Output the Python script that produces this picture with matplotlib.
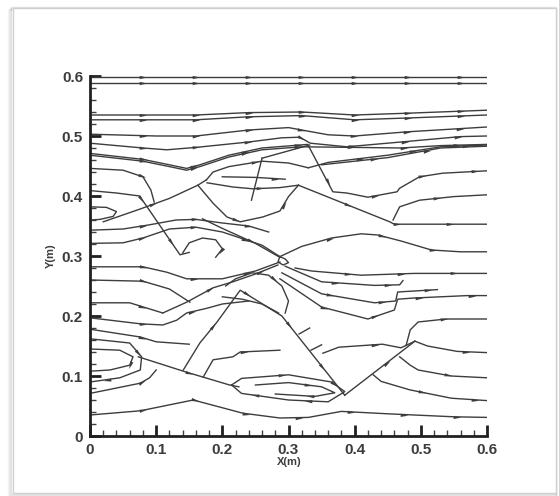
import numpy as np
import matplotlib
matplotlib.use("Agg")
import matplotlib.pyplot as plt
from matplotlib.path import Path
from matplotlib.markers import MarkerStyle
from matplotlib.transforms import Affine2D
from matplotlib.patches import Rectangle
from matplotlib.ticker import MultipleLocator

# ---- streamline traces, (x, y) in metres ----
top_1 = [(0.0, 0.598), (0.6, 0.598)]
top_2 = [(0.0, 0.588), (0.6, 0.588)]
top_3 = [(0.0, 0.535), (0.16, 0.535), (0.24, 0.539), (0.32, 0.540), (0.40, 0.535), (0.48, 0.538), (0.6, 0.543)]
top_4 = [(0.0, 0.527), (0.16, 0.527), (0.24, 0.532), (0.32, 0.534), (0.40, 0.527), (0.48, 0.530), (0.6, 0.535)]
top_5 = [(0.0, 0.503), (0.1, 0.500), (0.16, 0.500), (0.24, 0.510), (0.30, 0.514), (0.36, 0.502), (0.40, 0.500), (0.48, 0.507), (0.6, 0.515)]
top_6 = [(0.0, 0.488), (0.08, 0.480), (0.116, 0.477), (0.16, 0.481), (0.24, 0.490), (0.29, 0.497), (0.317, 0.498), (0.333, 0.488),
         (0.388, 0.482), (0.47, 0.490), (0.56, 0.499), (0.6, 0.500)]
top_7 = [(0.0, 0.471), (0.08, 0.461), (0.12, 0.452), (0.146, 0.446), (0.166, 0.452), (0.21, 0.468), (0.26, 0.480), (0.329, 0.486),
         (0.367, 0.407), (0.388, 0.405), (0.42, 0.398), (0.464, 0.407), (0.468, 0.413), (0.498, 0.432), (0.533, 0.438), (0.6, 0.442)]
top_8 = [(0.0, 0.468), (0.08, 0.458), (0.12, 0.449), (0.146, 0.443), (0.166, 0.449), (0.21, 0.465), (0.26, 0.477), (0.32, 0.482),
         (0.40, 0.481), (0.47, 0.480), (0.53, 0.484), (0.6, 0.486)]
conv_1 = [(0.33, 0.447), (0.36, 0.456), (0.45, 0.468), (0.53, 0.482), (0.6, 0.485)]
conv_2 = [(0.35, 0.452), (0.40, 0.458), (0.45, 0.464), (0.53, 0.480), (0.6, 0.483)]

# recirculation bubble below the upper shock
wall_left = [(0.244, 0.393), (0.26, 0.463)]
wall_roof = [(0.26, 0.463), (0.332, 0.485)]
bub_top = [(0.176, 0.427), (0.186, 0.440), (0.21, 0.449), (0.26, 0.458), (0.30, 0.455), (0.33, 0.447)]
bub_in1 = [(0.20, 0.432), (0.25, 0.431), (0.295, 0.428)]
bub_in2 = [(0.177, 0.422), (0.216, 0.415), (0.246, 0.412), (0.287, 0.414), (0.315, 0.418)]
bub_bot = [(0.163, 0.418), (0.186, 0.388), (0.207, 0.365), (0.227, 0.357), (0.261, 0.365), (0.287, 0.375), (0.30, 0.399), (0.315, 0.418)]
diag_1 = [(0.315, 0.418), (0.453, 0.357), (0.46, 0.353), (0.52, 0.353), (0.6, 0.353)]
diag_2 = [(0.17, 0.362), (0.20, 0.346), (0.25, 0.321), (0.285, 0.299)]
rise_1 = [(0.458, 0.360), (0.468, 0.382), (0.498, 0.393), (0.55, 0.399), (0.6, 0.402)]
mid_r1 = [(0.287, 0.299), (0.32, 0.316), (0.365, 0.330), (0.41, 0.337), (0.435, 0.335), (0.47, 0.325), (0.516, 0.310), (0.56, 0.307), (0.6, 0.307)]

# upper left region
left_1 = [(0.0, 0.446), (0.05, 0.443), (0.08, 0.432), (0.092, 0.410), (0.097, 0.390)]
left_2 = [(0.0, 0.409), (0.04, 0.405), (0.075, 0.400), (0.136, 0.302), (0.15, 0.306)]
left_b = [(0.0, 0.382), (0.025, 0.381), (0.04, 0.374), (0.035, 0.366), (0.015, 0.361), (0.0, 0.360)]
left_d = [(0.02, 0.357), (0.075, 0.378), (0.12, 0.396), (0.163, 0.418), (0.176, 0.427)]
left_3 = [(0.0, 0.343), (0.05, 0.345), (0.09, 0.352), (0.13, 0.360), (0.16, 0.361), (0.20, 0.355), (0.24, 0.350), (0.27, 0.34)]
left_4 = [(0.0, 0.321), (0.05, 0.322), (0.08, 0.330), (0.12, 0.345), (0.16, 0.348), (0.20, 0.340), (0.26, 0.318), (0.287, 0.299)]
left_5 = [(0.14, 0.305), (0.15, 0.322), (0.17, 0.330), (0.19, 0.327), (0.20, 0.312), (0.19, 0.298)]
loop_1 = [(0.287, 0.299), (0.295, 0.295), (0.30, 0.289), (0.292, 0.285), (0.284, 0.29), (0.287, 0.299)]

# middle band
low_1 = [(0.0, 0.282), (0.08, 0.282), (0.116, 0.273), (0.146, 0.262), (0.20, 0.262), (0.25, 0.275), (0.287, 0.29)]
low_2 = [(0.0, 0.260), (0.08, 0.258), (0.12, 0.245), (0.151, 0.223)]
rise_d = [(0.11, 0.205), (0.146, 0.223), (0.186, 0.247), (0.216, 0.257), (0.25, 0.27), (0.284, 0.285)]
low_3 = [(0.0, 0.222), (0.06, 0.222), (0.11, 0.205)]
low_4 = [(0.0, 0.197), (0.076, 0.187), (0.11, 0.185), (0.131, 0.193), (0.146, 0.205), (0.177, 0.213), (0.20, 0.22), (0.24, 0.225)]
low_5 = [(0.0, 0.178), (0.076, 0.165), (0.10, 0.157), (0.15, 0.153)]
mid_arc = [(0.205, 0.250), (0.22, 0.262), (0.245, 0.272), (0.27, 0.268), (0.29, 0.250), (0.30, 0.225), (0.295, 0.205)]
mid_arc2 = [(0.20, 0.232), (0.23, 0.228), (0.26, 0.220), (0.285, 0.205)]
mid_r2 = [(0.31, 0.280), (0.335, 0.275), (0.41, 0.268), (0.49, 0.271), (0.6, 0.271)]
mid_r3 = [(0.295, 0.283), (0.35, 0.257), (0.43, 0.251), (0.468, 0.252), (0.473, 0.259)]
mid_r4 = [(0.29, 0.272), (0.35, 0.237), (0.43, 0.222), (0.462, 0.225), (0.465, 0.240), (0.525, 0.244)]
mid_r5 = [(0.287, 0.262), (0.35, 0.215), (0.42, 0.195), (0.46, 0.210), (0.465, 0.228), (0.49, 0.230), (0.57, 0.234), (0.6, 0.234)]

# lower left bubble and oblique shock
lb_out = [(0.0, 0.162), (0.06, 0.155), (0.078, 0.132), (0.076, 0.110), (0.045, 0.097), (0.0, 0.090)]
lb_in = [(0.0, 0.145), (0.045, 0.143), (0.065, 0.132), (0.06, 0.118), (0.03, 0.110), (0.0, 0.108)]
shock_lo = [(0.073, 0.132), (0.144, 0.107), (0.211, 0.085), (0.225, 0.082)]
lb_under = [(0.0, 0.071), (0.076, 0.088), (0.09, 0.097), (0.10, 0.110)]
bottom = [(0.0, 0.035), (0.076, 0.042), (0.156, 0.060), (0.231, 0.038), (0.287, 0.030), (0.33, 0.031), (0.38, 0.041),
          (0.45, 0.037), (0.55, 0.032), (0.6, 0.031)]
steep_1 = [(0.141, 0.110), (0.166, 0.155), (0.192, 0.190), (0.227, 0.243), (0.29, 0.200), (0.385, 0.068)]
steep_2 = [(0.171, 0.098), (0.186, 0.127), (0.216, 0.132), (0.227, 0.140), (0.287, 0.143)]
stub_1 = [(0.316, 0.170), (0.332, 0.180)]
stub_2 = [(0.334, 0.143), (0.350, 0.152)]

# lower bubble and V-shaped shock
lo_bub = [(0.214, 0.085), (0.229, 0.096), (0.30, 0.102), (0.365, 0.090), (0.385, 0.074), (0.36, 0.057), (0.30, 0.060), (0.229, 0.071), (0.214, 0.085)]
lo_bub_in = [(0.25, 0.085), (0.30, 0.089), (0.35, 0.082), (0.37, 0.072), (0.34, 0.066), (0.28, 0.070)]
v_right = [(0.385, 0.068), (0.491, 0.158)]
v_after = [(0.491, 0.158), (0.51, 0.150), (0.555, 0.141), (0.6, 0.139)]
v_in = [(0.352, 0.138), (0.376, 0.148), (0.442, 0.153), (0.47, 0.147), (0.491, 0.158)]
v_up = [(0.478, 0.152), (0.484, 0.177), (0.496, 0.190), (0.538, 0.195), (0.6, 0.195)]
v_out1 = [(0.468, 0.132), (0.484, 0.118), (0.496, 0.110), (0.546, 0.100), (0.6, 0.097)]
v_out2 = [(0.428, 0.102), (0.44, 0.091), (0.483, 0.077), (0.546, 0.063), (0.6, 0.059)]

STREAMLINES = [top_1, top_2, top_3, top_4, top_5, top_6, top_7, top_8, conv_1, conv_2,
               wall_left, wall_roof, bub_top, bub_in1, bub_in2, bub_bot, diag_1, diag_2, rise_1, mid_r1,
               left_1, left_2, left_b, left_d, left_3, left_4, left_5, loop_1,
               low_1, low_2, rise_d, low_3, low_4, low_5, mid_arc, mid_arc2, mid_r2, mid_r3, mid_r4, mid_r5,
               lb_out, lb_in, shock_lo, lb_under, bottom, steep_1, steep_2,
               lo_bub, lo_bub_in, v_right, v_after, v_in, v_up, v_out1, v_out2]
STUBS = [stub_1, stub_2]

X_TICKS = [0.0, 0.1, 0.2, 0.3, 0.4, 0.5, 0.6]
X_LABELS = ["0", "0.1", "0.2", "0.3", "0.4", "0.5", "0.6"]
Y_TICKS = [0.0, 0.1, 0.2, 0.3, 0.4, 0.5, 0.6]
Y_LABELS = ["0", "0.1", "0.2", "0.3", "0.4", "0.5", "0.6"]

LINE = "#3d3d3d"
TEXT = "#3c3c3c"
plt.rcParams["font.family"] = ["Liberation Sans", "DejaVu Sans"]

W, H = 559, 496
fig = plt.figure(figsize=(W / 100, H / 100), dpi=100)

# framed panel with a soft drop shadow
for k, a in enumerate([0.10, 0.08, 0.06, 0.04]):
    fig.add_artist(Rectangle(((11 - k) / W, (2 - k) / H), (545 + k) / W, (487) / H,
                             transform=fig.transFigure, fill=False, edgecolor="#000000",
                             alpha=a, lw=1.0, zorder=-3))
fig.add_artist(Rectangle((13 / W, 3 / H), 543 / W, 485 / H, transform=fig.transFigure,
                         facecolor="white", edgecolor="#d0d0d0", lw=1.0, zorder=-2))

ax = fig.add_axes([90 / W, 1 - 436 / H, (487 - 90) / W, (436 - 76) / H])
ax.set_xlim(0, 0.6)
ax.set_ylim(0, 0.6)
ax.patch.set_alpha(0)

ARROW = Path([(1.0, 0.0), (-1.0, 0.42), (-1.0, -0.42), (1.0, 0.0)],
             [Path.MOVETO, Path.LINETO, Path.LINETO, Path.CLOSEPOLY])


def draw_streamline(pts, first=53.0, spacing=53.0):
    xs, ys = np.asarray(pts, dtype=float).T
    ax.plot(xs, ys, color=LINE, lw=1.0, solid_joinstyle="round", zorder=2)
    disp = ax.transData.transform(np.column_stack([xs, ys]))
    seg = np.diff(disp, axis=0)
    seglen = np.hypot(seg[:, 0], seg[:, 1])
    cum = np.concatenate([[0.0], np.cumsum(seglen)])
    s = first
    inv = ax.transData.inverted()
    while s < cum[-1] - 8:
        i = min(np.searchsorted(cum, s, side="right") - 1, len(seg) - 1)
        if seglen[i] > 0:
            t = (s - cum[i]) / seglen[i]
            p = disp[i] + t * seg[i]
            ang = np.degrees(np.arctan2(seg[i, 1], seg[i, 0]))
            px, py = inv.transform(p)
            m = MarkerStyle(ARROW, transform=Affine2D().rotate_deg(ang))
            ax.plot(px, py, marker=m, ms=5.5, color=LINE, mew=0, ls="none", zorder=3)
        s += spacing


for line in STREAMLINES:
    draw_streamline(line)
for stub in STUBS:
    sx, sy = np.asarray(stub).T
    ax.plot(sx, sy, color=LINE, lw=1.0, zorder=2)

for side in ("top", "right"):
    ax.spines[side].set_visible(False)
for side in ("left", "bottom"):
    ax.spines[side].set_linewidth(2.0)
    ax.spines[side].set_color("#202020")

ax.set_xticks(X_TICKS)
ax.set_xticklabels(X_LABELS)
ax.set_yticks(Y_TICKS)
ax.set_yticklabels(Y_LABELS)
ax.xaxis.set_minor_locator(MultipleLocator(0.02))
ax.yaxis.set_minor_locator(MultipleLocator(0.02))
ax.tick_params(which="major", direction="in", length=8, width=2.0, color="#202020",
               labelsize=11, labelcolor=TEXT, pad=5)
ax.tick_params(which="minor", direction="in", length=4, width=1.0, color="#404040")
for lab in ax.get_xticklabels() + ax.get_yticklabels():
    lab.set_fontweight("bold")

fig.text(289 / W, 1 - 462 / H, "X(m)", ha="center", va="center", fontsize=8,
         fontweight="bold", color=TEXT)
fig.text(51 / W, 1 - 256 / H, "Y(m)", ha="center", va="center", fontsize=8,
         fontweight="bold", color=TEXT, rotation=90)

fig.savefig("out.png", dpi=100)
